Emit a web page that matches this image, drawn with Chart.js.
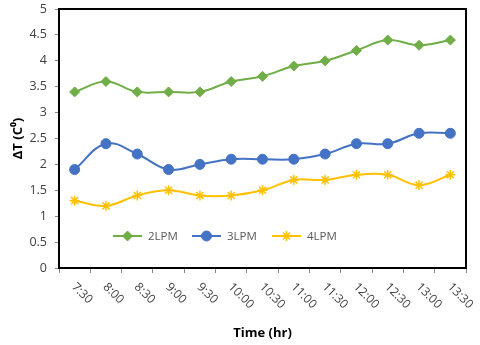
<!DOCTYPE html>
<html>
<head>
<meta charset="utf-8">
<script src="https://cdn.jsdelivr.net/npm/chart.js@4/dist/chart.umd.min.js"></script>
<style>
  html, body { margin: 0; padding: 0; background: #fff; }
  #wrap { width: 480px; height: 345px; }
</style>
</head>
<body>
<div id="wrap"><canvas id="tempChart"></canvas></div>
<script>
// DATA
const times = ["7:30", "8:00", "8:30", "9:00", "9:30", "10:00", "10:30", "11:00", "11:30", "12:00", "12:30", "13:00", "13:30"];
const lpm2 = [3.4, 3.6, 3.4, 3.4, 3.4, 3.6, 3.7, 3.9, 4.0, 4.2, 4.4, 4.3, 4.4];
const lpm3 = [1.9, 2.4, 2.2, 1.9, 2.0, 2.1, 2.1, 2.1, 2.2, 2.4, 2.4, 2.6, 2.6];
const lpm4 = [1.3, 1.2, 1.4, 1.5, 1.4, 1.4, 1.5, 1.7, 1.7, 1.8, 1.8, 1.6, 1.8];

const FONT = "'Open Sans', 'DejaVu Sans', sans-serif";

// black frame around the plot area
const frame = {
  id: "frame",
  beforeDatasetsDraw(chart) {
    const a = chart.chartArea;
    const ctx = chart.ctx;
    ctx.save();
    ctx.strokeStyle = "#000";
    ctx.lineWidth = 2;
    ctx.strokeRect(a.left, a.top, a.right - a.left, a.bottom - a.top);
    ctx.restore();
  }
};

// x labels rotated downwards (excel style)
const slantLabels = {
  id: "slantLabels",
  afterDraw(chart) {
    const x = chart.scales.x;
    const ctx = chart.ctx;
    ctx.save();
    ctx.font = "12px " + FONT;
    ctx.fillStyle = "#404040";
    ctx.textAlign = "left";
    ctx.textBaseline = "middle";
    times.forEach((t, i) => {
      ctx.save();
      ctx.translate(x.getPixelForValue(i) - 1, x.top + 17);
      ctx.rotate(Math.PI / 4);
      ctx.fillText(t, 0, 0);
      ctx.restore();
    });
    ctx.restore();
  }
};

// legend sitting inside the plot
const innerLegend = {
  id: "innerLegend",
  afterDraw(chart) {
    const ctx = chart.ctx;
    const y = 236;
    const starts = [113, 192, 272];
    ctx.save();
    ctx.font = "11.5px " + FONT;
    ctx.textBaseline = "middle";
    ctx.textAlign = "left";
    chart.data.datasets.forEach((ds, i) => {
      const x0 = starts[i];
      ctx.strokeStyle = ds.borderColor;
      ctx.lineWidth = 2;
      ctx.beginPath();
      ctx.moveTo(x0, y);
      ctx.lineTo(x0 + 29, y);
      ctx.stroke();
      ctx.fillStyle = ds.borderColor;
      ctx.lineWidth = ds.pointBorderWidth;
      Chart.helpers.drawPoint(ctx, {
        pointStyle: ds.pointStyle,
        radius: ds.pointRadius,
        borderWidth: ds.pointBorderWidth
      }, x0 + 14.5, y);
      ctx.fillStyle = "#595959";
      ctx.fillText(ds.label, x0 + 35, y + 1);
    });
    ctx.restore();
  }
};

function series(label, data, color, style, r) {
  return {
    label: label,
    data: data,
    borderColor: color,
    backgroundColor: color,
    pointBackgroundColor: color,
    pointBorderColor: color,
    borderWidth: 2,
    pointStyle: style,
    pointRadius: r,
    pointBorderWidth: style === "star" ? 1.5 : 1,
    tension: 0.4,
    fill: false
  };
}

new Chart(document.getElementById("tempChart"), {
  type: "line",
  data: {
    labels: times,
    datasets: [
      series("2LPM", lpm2, "#70AD47", "rectRot", 5),
      series("3LPM", lpm3, "#4472C4", "circle", 5),
      series("4LPM", lpm4, "#FFC000", "star", 5)
    ]
  },
  options: {
    responsive: true,
    maintainAspectRatio: false,
    animation: false,
    layout: { padding: { top: 9, right: 14, left: 0, bottom: 0 } },
    plugins: {
      legend: { display: false },
      tooltip: { enabled: false }
    },
    scales: {
      x: {
        offset: true,
        afterFit: s => { s.height = 77; },
        grid: { offset: true, drawOnChartArea: false, tickLength: 5, color: "#888" },
        border: { color: "#000", width: 2 },
        ticks: { color: "transparent", maxRotation: 0, autoSkip: false, font: { size: 12, family: FONT } },
        title: {
          display: true,
          text: "Time (hr)",
          color: "#000",
          padding: { top: 0, bottom: 4 },
          font: { size: 13, weight: "bold", family: FONT }
        }
      },
      y: {
        min: 0,
        max: 5,
        afterFit: s => { s.width = 59; s.paddingTop = 0; s.paddingBottom = 0; },
        ticks: {
          stepSize: 0.5,
          color: "#404040",
          padding: 8,
          font: { size: 12.5, family: FONT },
          callback: v => String(Math.round(v * 10) / 10)
        },
        grid: { drawOnChartArea: false, tickLength: 4, color: "#888" },
        border: { color: "#000", width: 2 },
        title: {
          display: true,
          text: "ΔT (C⁰)",
          color: "#000",
          padding: { top: 10, bottom: 0 },
          font: { size: 13, weight: "bold", family: FONT }
        }
      }
    }
  },
  plugins: [frame, slantLabels, innerLegend]
});
</script>
</body>
</html>
